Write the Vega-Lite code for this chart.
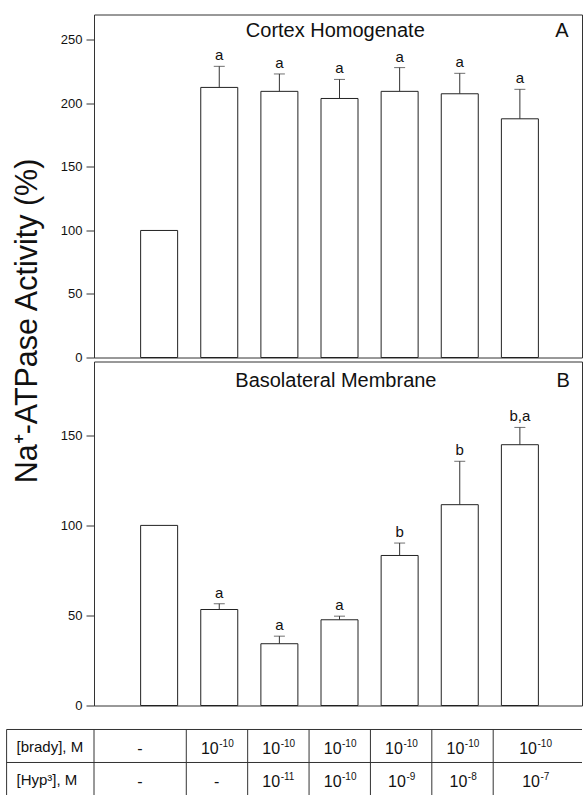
{
  "$schema": "https://vega.github.io/schema/vega-lite/v6.json",
  "background": "white",
  "autosize": {"type": "pad"},
  "padding": {"left": 6, "top": 13.5, "right": 0, "bottom": 0},
  "config": {
    "font": "Liberation Sans",
    "view": {"stroke": "#333", "strokeWidth": 1},
    "axis": {"labelFont": "Liberation Sans", "labelFontSize": 13, "labelColor": "#111", "domainColor": "#333", "tickColor": "#333", "tickSize": 8, "labelPadding": 4, "grid": false},
    "text": {"font": "Liberation Sans", "color": "#111", "fontWeight": "normal"}
  },
  "datasets": {
    "cortex": [
      {"idx": 1, "mean": 100, "upper": null, "sig": ""},
      {"idx": 2, "mean": 212.6, "upper": 229.2, "sig": "a"},
      {"idx": 3, "mean": 209.5, "upper": 223.2, "sig": "a"},
      {"idx": 4, "mean": 203.9, "upper": 218.9, "sig": "a"},
      {"idx": 5, "mean": 209.5, "upper": 228.2, "sig": "a"},
      {"idx": 6, "mean": 207.6, "upper": 223.7, "sig": "a"},
      {"idx": 7, "mean": 187.9, "upper": 211.1, "sig": "a"}
    ],
    "membrane": [
      {"idx": 1, "mean": 100, "upper": null, "sig": ""},
      {"idx": 2, "mean": 53.3, "upper": 56.5, "sig": "a"},
      {"idx": 3, "mean": 34.3, "upper": 38.5, "sig": "a"},
      {"idx": 4, "mean": 47.6, "upper": 49.6, "sig": "a"},
      {"idx": 5, "mean": 83.3, "upper": 90.2, "sig": "b"},
      {"idx": 6, "mean": 111.5, "upper": 135.6, "sig": "b"},
      {"idx": 7, "mean": 144.8, "upper": 154.4, "sig": "b,a"}
    ],
    "table": [
      {"row": "brady", "col": 0, "base": "[brady], M", "exp": ""},
      {"row": "brady", "col": 1, "base": "-", "exp": ""},
      {"row": "brady", "col": 2, "base": "10", "exp": "-10"},
      {"row": "brady", "col": 3, "base": "10", "exp": "-10"},
      {"row": "brady", "col": 4, "base": "10", "exp": "-10"},
      {"row": "brady", "col": 5, "base": "10", "exp": "-10"},
      {"row": "brady", "col": 6, "base": "10", "exp": "-10"},
      {"row": "brady", "col": 7, "base": "10", "exp": "-10"},
      {"row": "hyp", "col": 0, "base": "[Hyp³], M", "exp": ""},
      {"row": "hyp", "col": 1, "base": "-", "exp": ""},
      {"row": "hyp", "col": 2, "base": "-", "exp": ""},
      {"row": "hyp", "col": 3, "base": "10", "exp": "-11"},
      {"row": "hyp", "col": 4, "base": "10", "exp": "-10"},
      {"row": "hyp", "col": 5, "base": "10", "exp": "-9"},
      {"row": "hyp", "col": 6, "base": "10", "exp": "-8"},
      {"row": "hyp", "col": 7, "base": "10", "exp": "-7"}
    ]
  },
  "bounds": "flush",
  "spacing": 4,
  "vconcat": [
    {
      "width": 488,
      "height": 343,
      "layer": [
        {
          "data": {"name": "cortex"},
          "mark": {"type": "bar", "orient": "vertical", "width": 37, "fill": "white", "stroke": "#222", "strokeWidth": 1},
          "encoding": {
            "x": {"field": "idx", "type": "quantitative", "scale": {"domain": [0, 7.95], "nice": false, "zero": false}, "axis": null},
            "y": {"field": "mean", "type": "quantitative", "scale": {"domain": [0, 270], "nice": false}, "axis": {"values": [0, 50, 100, 150, 200, 250], "title": "Na⁺-ATPase Activity (%)", "titleFont": "Liberation Sans", "titleFontSize": 30.5, "titleFontWeight": "normal", "titleColor": "#111", "titleX": -67, "titleY": 306, "titleAngle": 270, "titleAlign": "center", "titleBaseline": "middle", "titleLimit": 1000}}
          }
        },
        {
          "data": {"name": "cortex"},
          "transform": [{"filter": "datum.upper != null"}],
          "mark": {"type": "rule", "color": "#333", "strokeWidth": 1},
          "encoding": {
            "x": {"field": "idx", "type": "quantitative"},
            "y": {"field": "mean", "type": "quantitative", "scale": {"domain": [0, 270], "nice": false}},
            "y2": {"field": "upper"}
          }
        },
        {
          "data": {"name": "cortex"},
          "transform": [{"filter": "datum.upper != null"}],
          "mark": {"type": "tick", "orient": "horizontal", "size": 11, "thickness": 1, "color": "#333"},
          "encoding": {
            "x": {"field": "idx", "type": "quantitative"},
            "y": {"field": "upper", "type": "quantitative", "scale": {"domain": [0, 270], "nice": false}}
          }
        },
        {
          "data": {"name": "cortex"},
          "transform": [{"filter": "datum.upper != null"}],
          "mark": {"type": "text", "fontSize": 15, "fontWeight": "normal", "baseline": "alphabetic", "dy": -6},
          "encoding": {
            "x": {"field": "idx", "type": "quantitative"},
            "y": {"field": "upper", "type": "quantitative", "scale": {"domain": [0, 270], "nice": false}},
            "text": {"field": "sig"}
          }
        },
        {
          "data": {"values": [{"name": "Cortex Homogenate"}]},
          "mark": {"type": "text", "fontSize": 20, "fontWeight": "normal", "baseline": "alphabetic", "dy": 22.7, "align": "center"},
          "encoding": {"x": {"datum": 3.93}, "y": {"datum": 270}, "text": {"field": "name"}}
        },
        {
          "data": {"values": [{"panel": "A"}]},
          "mark": {"type": "text", "fontSize": 20, "fontWeight": "normal", "baseline": "alphabetic", "dy": 22.7, "align": "center"},
          "encoding": {"x": {"datum": 7.7}, "y": {"datum": 270}, "text": {"field": "panel"}}
        }
      ]
    },
    {
      "width": 488,
      "height": 344,
      "layer": [
        {
          "data": {"name": "membrane"},
          "mark": {"type": "bar", "orient": "vertical", "width": 37, "fill": "white", "stroke": "#222", "strokeWidth": 1},
          "encoding": {
            "x": {"field": "idx", "type": "quantitative", "scale": {"domain": [0, 7.95], "nice": false, "zero": false}, "axis": null},
            "y": {"field": "mean", "type": "quantitative", "scale": {"domain": [0, 191], "nice": false}, "axis": {"values": [0, 50, 100, 150], "title": null}}
          }
        },
        {
          "data": {"name": "membrane"},
          "transform": [{"filter": "datum.upper != null"}],
          "mark": {"type": "rule", "color": "#333", "strokeWidth": 1},
          "encoding": {
            "x": {"field": "idx", "type": "quantitative"},
            "y": {"field": "mean", "type": "quantitative", "scale": {"domain": [0, 191], "nice": false}},
            "y2": {"field": "upper"}
          }
        },
        {
          "data": {"name": "membrane"},
          "transform": [{"filter": "datum.upper != null"}],
          "mark": {"type": "tick", "orient": "horizontal", "size": 11, "thickness": 1, "color": "#333"},
          "encoding": {
            "x": {"field": "idx", "type": "quantitative"},
            "y": {"field": "upper", "type": "quantitative", "scale": {"domain": [0, 191], "nice": false}}
          }
        },
        {
          "data": {"name": "membrane"},
          "transform": [{"filter": "datum.upper != null"}],
          "mark": {"type": "text", "fontSize": 15, "fontWeight": "normal", "baseline": "alphabetic", "dy": -6},
          "encoding": {
            "x": {"field": "idx", "type": "quantitative"},
            "y": {"field": "upper", "type": "quantitative", "scale": {"domain": [0, 191], "nice": false}},
            "text": {"field": "sig"}
          }
        },
        {
          "data": {"values": [{"name": "Basolateral Membrane"}]},
          "mark": {"type": "text", "fontSize": 20, "fontWeight": "normal", "baseline": "alphabetic", "dy": 25.6, "align": "center"},
          "encoding": {"x": {"datum": 3.94}, "y": {"datum": 191}, "text": {"field": "name"}}
        },
        {
          "data": {"values": [{"panel": "B"}]},
          "mark": {"type": "text", "fontSize": 20, "fontWeight": "normal", "baseline": "alphabetic", "dy": 25.6, "align": "center"},
          "encoding": {"x": {"datum": 7.72}, "y": {"datum": 191}, "text": {"field": "panel"}}
        }
      ]
    },
    {
      "width": 488,
      "height": 86,
      "data": {"name": "table"},
      "view": {"stroke": null},
      "layer": [
        {
          "transform": [{"filter": "datum.col == 0"}],
          "mark": {"type": "rule", "color": "#333", "xOffset": -87.4},
          "encoding": {
            "y": {"field": "row", "type": "nominal", "bandPosition": 0, "scale": {"type": "band", "domain": ["brady", "hyp"], "paddingInner": 0, "paddingOuter": 0.303, "align": 1}, "axis": null},
            "x": {"datum": 0, "scale": {"domain": [0, 7.95], "nice": false, "zero": false}, "axis": null},
            "x2": {"datum": 7.95}
          }
        },
        {
          "transform": [{"filter": "datum.row == 'brady' && datum.col >= 0 && datum.col <= 6"}],
          "mark": {"type": "rule", "color": "#333", "xOffset": {"expr": "datum.col == 0 ? 0 : 30.9"}},
          "encoding": {
            "x": {"field": "col", "type": "quantitative", "scale": {"domain": [0, 7.95], "nice": false, "zero": false}, "axis": null},
            "y": {"field": "row", "type": "nominal", "bandPosition": 0, "scale": {"type": "band", "domain": ["brady", "hyp"], "paddingInner": 0, "paddingOuter": 0.303, "align": 1}, "axis": null},
            "y2": {"datum": "hyp", "bandPosition": 1}
          }
        },
        {
          "transform": [{"filter": "datum.row == 'brady' && datum.col == 0"}],
          "mark": {"type": "rule", "color": "#333", "xOffset": -87.4},
          "encoding": {
            "x": {"field": "col", "type": "quantitative", "scale": {"domain": [0, 7.95], "nice": false, "zero": false}, "axis": null},
            "y": {"field": "row", "type": "nominal", "bandPosition": 0, "scale": {"type": "band", "domain": ["brady", "hyp"], "paddingInner": 0, "paddingOuter": 0.303, "align": 1}, "axis": null},
            "y2": {"datum": "hyp", "bandPosition": 1}
          }
        },
        {
          "mark": {"type": "text", "fontWeight": "normal", "baseline": "alphabetic",
                   "fontSize": {"expr": "datum.col == 0 ? 15 : 16"},
                   "dy": {"expr": "datum.col == 0 ? 6.5 : 8"},
                   "align": {"expr": "datum.col == 0 ? 'left' : datum.exp == '' ? 'center' : 'right'"},
                   "xOffset": {"expr": "datum.col == 0 ? -77.5 : (datum.col == 1 ? -15.4 : datum.col == 7 ? 11.3 : 0) + (datum.exp == '' ? 0 : length(datum.exp) == 3 ? 2 : 5)"}},
          "encoding": {
            "x": {"field": "col", "type": "quantitative", "scale": {"domain": [0, 7.95], "nice": false, "zero": false}, "axis": null},
            "y": {"field": "row", "type": "nominal", "scale": {"type": "band", "domain": ["brady", "hyp"], "paddingInner": 0, "paddingOuter": 0.303, "align": 1}, "axis": null},
            "text": {"field": "base"}
          }
        },
        {
          "transform": [{"filter": "datum.exp != ''"}],
          "mark": {"type": "text", "fontWeight": "normal", "baseline": "alphabetic", "fontSize": 10, "dy": 1, "align": "left",
                   "xOffset": {"expr": "(datum.col == 7 ? 11.3 : 0) + (length(datum.exp) == 3 ? 2.5 : 5.5)"}},
          "encoding": {
            "x": {"field": "col", "type": "quantitative", "scale": {"domain": [0, 7.95], "nice": false, "zero": false}, "axis": null},
            "y": {"field": "row", "type": "nominal", "scale": {"type": "band", "domain": ["brady", "hyp"], "paddingInner": 0, "paddingOuter": 0.303, "align": 1}, "axis": null},
            "text": {"field": "exp"}
          }
        }
      ]
    }
  ]
}
